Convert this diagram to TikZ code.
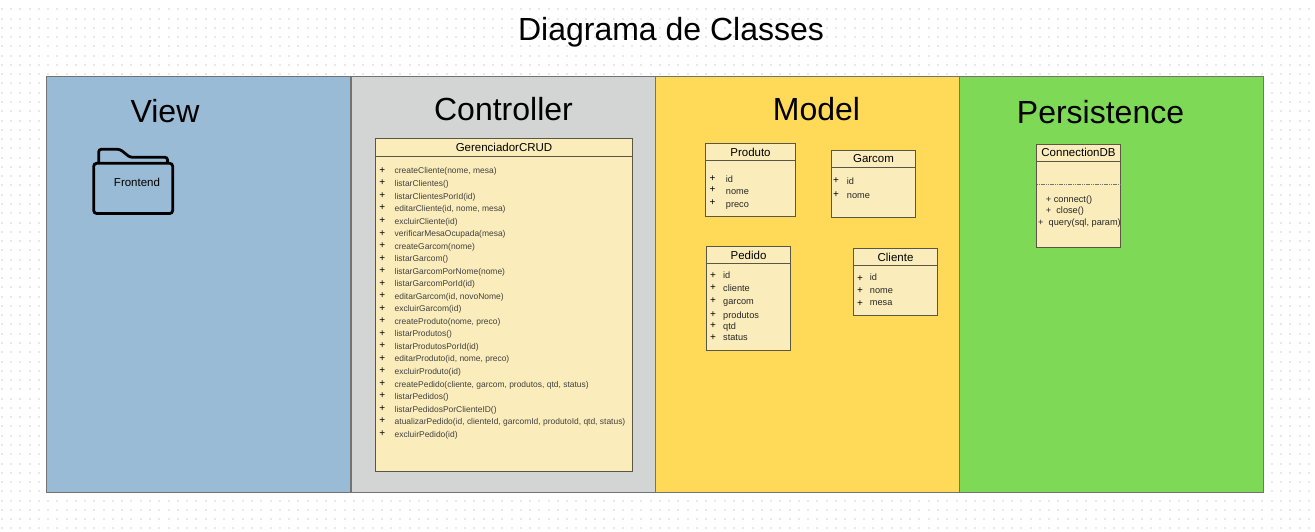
\documentclass[tikz,border=0pt]{standalone}
\usepackage{fontspec}
\setmainfont{Liberation Sans}
\usepackage{tikz}
\usetikzlibrary{positioning,calc}
\definecolor{viewblue}{HTML}{9ABBD6}
\definecolor{ctrlgray}{HTML}{D3D5D4}
\definecolor{modelyellow}{HTML}{FFDA59}
\definecolor{persistgreen}{HTML}{7ED957}
\definecolor{classfill}{HTML}{FBEDBB}
\definecolor{classline}{HTML}{5A5744}
\definecolor{griddot}{HTML}{E9E9E9}
\newcommand{\fs}[1]{\fontsize{#1}{#1}\selectfont}

\begin{document}
\begin{tikzpicture}[
    x=1pt, y=-1pt,
    panel/.style={rectangle, draw=black!55, line width=0.7pt, fill=#1, minimum width=304pt, minimum height=416pt, inner sep=0pt},
    paneltitle/.style={font=\fs{32}, inner sep=0pt},
    classbox/.style={rectangle, draw=classline, line width=1pt, fill=classfill, inner sep=0pt},
    classhead/.style={rectangle, draw=classline, line width=1pt, fill=classfill, anchor=north, inner sep=0pt, font=\fs{11.5}, text=black},
    member/.style={anchor=west, inner sep=0pt, text height=7pt, text depth=2pt, font=\fs{9.2}, text=black!85},
    method/.style={anchor=west, inner sep=0pt, text height=6pt, text depth=2pt, font=\fs{8.45}, text=black!75},
    plus/.style={inner sep=0pt, font=\fs{10}, text=black}
]
\useasboundingbox (0,0) rectangle (1315,532);
\fill[white] (0,0) rectangle (1315,532);

% Dotted page grid
\foreach \gx in {0,...,141} {
    \foreach \gy in {0,...,57} {
        \fill[griddot] ({1.7+9.27*\gx-1},{9.3+9.27*\gy-1}) rectangle +(2,2);
    }
}

% Title
\node[font=\fs{32}, inner sep=0pt] (title) at (671, 32) {Diagrama de Classes};

% Layers
\node[panel=viewblue] (view) at (198, 284) {};
\node[panel=ctrlgray] (controller) at (503, 284) {};
\node[panel=modelyellow] (model) at (807, 284) {};
\node[panel=persistgreen] (persistence) at (1111, 284) {};

\node[paneltitle] (viewtitle) at (165, 111) {View};
\node[paneltitle] (controllertitle) at (503.5, 109) {Controller};
\node[paneltitle] (modeltitle) at (816.5, 109) {Model};
\node[paneltitle] (persistencetitle) at (1100.5, 112) {Persistence};

% Frontend folder
\draw[line width=2.8pt, rounded corners=2.5pt] (98.7,163) -- (98.7,149.3) -- (120,149.3) -- (130,157.3) -- (167.5,157.3) -- (167.5,163);
\draw[line width=2.8pt, rounded corners=3pt] (93.7,163.3) rectangle (172.7,213.5);
\node[font=\fs{11.5}, inner sep=0pt] (frontend) at (137, 182.5) {Frontend};

% GerenciadorCRUD
\node[classbox, minimum width=257pt, minimum height=332.5pt] (crud) at (504, 304.75) {};
\node[classhead, minimum width=257pt, minimum height=18pt] (crudhead) at (crud.north) {GerenciadorCRUD};
\foreach \i/\txt in {0/{createCliente(nome, mesa)}, 1/{listarClientes()}, 2/{listarClientesPorId(id)}, 3/{editarCliente(id, nome, mesa)}, 4/{excluirCliente(id)}, 5/{verificarMesaOcupada(mesa)}, 6/{createGarcom(nome)}, 7/{listarGarcom()}, 8/{listarGarcomPorNome(nome)}, 9/{listarGarcomPorId(id)}, 10/{editarGarcom(id, novoNome)}, 11/{excluirGarcom(id)}, 12/{createProduto(nome, preco)}, 13/{listarProdutos()}, 14/{listarProdutosPorId(id)}, 15/{editarProduto(id, nome, preco)}, 16/{excluirProduto(id)}, 17/{createPedido(cliente, garcom, produtos, qtd, status)}, 18/{listarPedidos()}, 19/{listarPedidosPorClienteID()}, 20/{atualizarPedido(id, clienteId, garcomId, produtoId, qtd, status)}, 21/{excluirPedido(id)}} {
    \node[plus] (crudplus\i) at (382.3, {170.5+12.53*\i}) {+};
    \node[method] (crudm\i) at (394.5, {172+12.53*\i}) {\txt};
}

% Produto
\node[classbox, minimum width=90pt, minimum height=73pt] (produto) at (750.5, 180) {};
\node[classhead, minimum width=90pt, minimum height=17pt] (produtohead) at (produto.north) {Produto};
\foreach \i/\yy/\txt in {0/180.4/id, 1/191.7/nome, 2/204.7/preco} {
    \node[plus] (produtoplus\i) at (712.5, \yy-2) {+};
    \node[member] (produtom\i) at (725.7, \yy) {\txt};
}

% Garcom
\node[classbox, minimum width=84pt, minimum height=67pt] (garcom) at (873.5, 184) {};
\node[classhead, minimum width=84pt, minimum height=17pt] (garcomhead) at (garcom.north) {Garcom};
\foreach \i/\yy/\txt in {0/182.4/id, 1/196.4/nome} {
    \node[plus] (garcomplus\i) at (836, \yy-1.5) {+};
    \node[member] (garcomm\i) at (846.7, \yy) {\txt};
}

% Pedido
\node[classbox, minimum width=84pt, minimum height=104pt] (pedido) at (748.5, 298.5) {};
\node[classhead, minimum width=84pt, minimum height=17pt] (pedidohead) at (pedido.north) {Pedido};
\foreach \i/\yy/\txt in {0/276.4/id, 1/288.7/cliente, 2/301.7/garcom, 3/315.7/produtos, 4/326.7/qtd, 5/338.4/status} {
    \node[plus] (pedidoplus\i) at (713, \yy-1) {+};
    \node[member] (pedidom\i) at (723, \yy) {\txt};
}

% Cliente
\node[classbox, minimum width=84pt, minimum height=67pt] (cliente) at (895.5, 282) {};
\node[classhead, minimum width=84pt, minimum height=17pt] (clientehead) at (cliente.north) {Cliente};
\foreach \i/\yy/\txt in {0/278.4/id, 1/290.7/nome, 2/303.4/mesa} {
    \node[plus] (clienteplus\i) at (860, \yy) {+};
    \node[member] (clientem\i) at (869.7, \yy) {\txt};
}

% ConnectionDB
\node[classbox, minimum width=84pt, minimum height=103.5pt] (conn) at (1078.5, 196) {};
\node[classhead, minimum width=84pt, minimum height=17pt] (connhead) at (conn.north) {ConnectionDB};
\coordinate (sepL) at (conn.west |- 0,184.3);
\coordinate (sepR) at (conn.east |- 0,184.3);
\draw[black!55, line width=1pt, dash pattern=on 1.2pt off 0.6pt, shorten >=1pt, shorten <=1pt] (sepL) -- (sepR);
\node[member, font=\fs{9.2}] (connm0) at (1045.7, 199.7) {+ connect()};
\node[member, font=\fs{9.2}] (connm1) at (1045.7, 210.7) {+ \ close()};
\node[member, font=\fs{9.2}] (connm2) at (1038, 223.4) {+ \ query(sql, param)};

\end{tikzpicture}
\end{document}
